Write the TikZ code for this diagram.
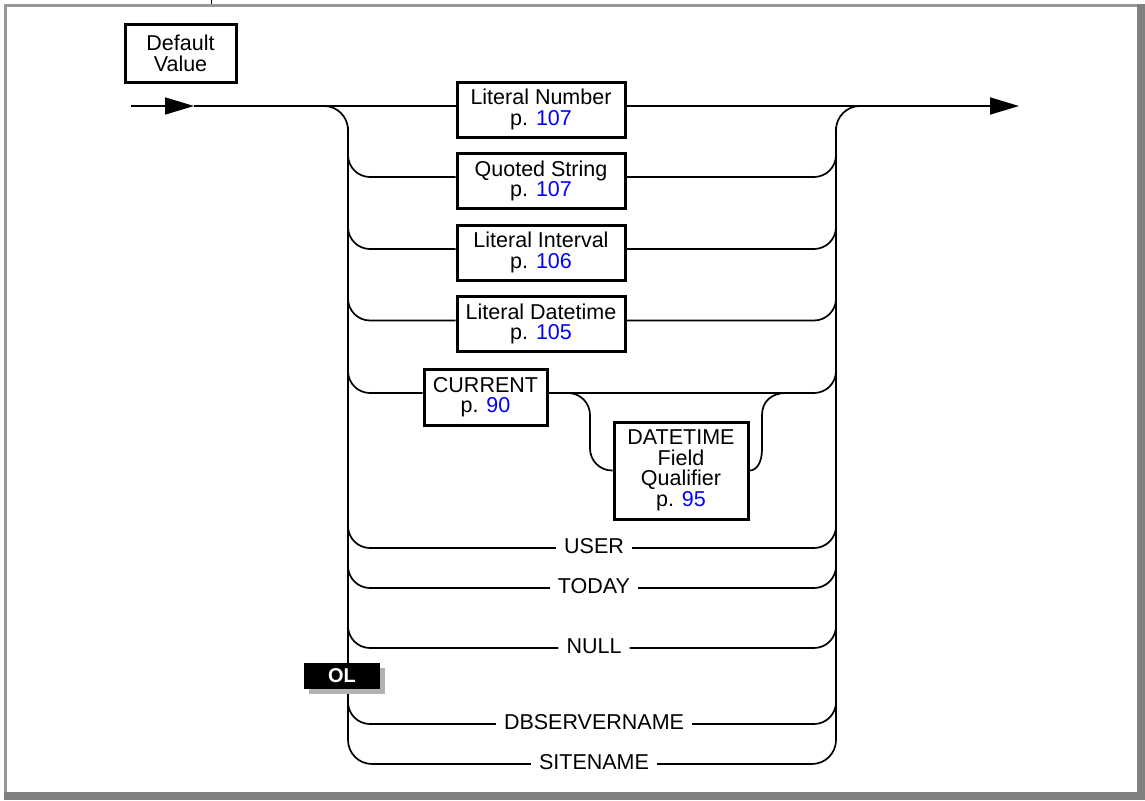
\documentclass[tikz,border=0pt]{standalone}
\usepackage{fontspec}
\setmainfont{Liberation Sans}
\usetikzlibrary{arrows.meta,calc}
\begin{document}
\begin{tikzpicture}[x=1pt,y=-1pt,
  conn/.style={line width=1.7pt},
  refbox/.style={draw,line width=3pt,align=center,inner sep=0pt,
    font=\fontsize{21.5pt}{20.5pt}\selectfont},
  kw/.style={fill=white,inner xsep=8pt,inner ysep=0pt,text height=15pt,text depth=5pt,
    font=\fontsize{21.5pt}{20.5pt}\selectfont},
  tip/.style={-{Triangle[length=29pt,width=17pt]}}]
\useasboundingbox (0,0) rectangle (1145,800);
% frame
\fill[black!40] (4,4) rectangle (1137,7);
\fill[black!40] (4,4) rectangle (7,792);
\fill[black!50] (1137,4) rectangle (1145,800);
\fill[black!50] (4,792) rectangle (1145,800);
\draw[line width=1pt] (211.5,0) -- (211.5,4);

% nodes
\node[refbox,minimum width=111pt,minimum height=57pt] (dv) at (180.5,53.5) {Default\\Value};
\node[refbox,minimum width=168pt,minimum height=55pt] (ln) at (541,109.5) {Literal Number\\p. \textcolor{blue}{107}};
\node[refbox,minimum width=168pt,minimum height=55pt] (qs) at (541,181) {Quoted String\\p. \textcolor{blue}{107}};
\node[refbox,minimum width=168pt,minimum height=55pt] (li) at (541,252.5) {Literal Interval\\p. \textcolor{blue}{106}};
\node[refbox,minimum width=168pt,minimum height=55pt] (ld) at (541,324) {Literal Datetime\\p. \textcolor{blue}{105}};
\node[refbox,minimum width=123pt,minimum height=56pt] (cur) at (485.5,397) {CURRENT\\p. \textcolor{blue}{90}};
\node[refbox,minimum width=134pt,minimum height=97pt] (dt) at (681,470.5) {DATETIME\\Field\\Qualifier\\p. \textcolor{blue}{95}};
\node[kw] (user) at (594,548) {USER};
\node[kw] (today) at (594,588) {TODAY};
\node[kw] (null) at (594,648) {NULL};
\node[kw] (dbs) at (594,724) {DBSERVERNAME};
\node[kw] (site) at (594,764) {SITENAME};

% coordinates
\coordinate (start) at (131,106);
\coordinate (in) at (194,106);
\coordinate (out) at (1019,106);
\coordinate (lt) at (300,106);
\coordinate (rt) at (880,106);

% main line
\draw[conn,tip] (start) -- (in);
\draw[conn] (in) -- (ln.west |- in);
\draw[conn,tip] (ln.east |- out) -- (out);

% trunks
\draw[conn,rounded corners=24pt] (lt) -| (348,764) -- (site.west);
\draw[conn,rounded corners=24pt] (site.east) -| (836,106) -- (rt);

% branches
\foreach \n/\y in {qs/177,li/249,ld/320.5,cur/393}{
  \draw[conn,rounded corners=22pt] (348,\y-50) |- (\n.west |- 0,\y);
  \draw[conn,rounded corners=22pt] (\n.east |- 0,\y) -| (836,\y-50);
}
\foreach \n/\y in {user/548,today/588,null/648,dbs/724}{
  \draw[conn,rounded corners=22pt] (348,\y-50) |- (\n.west);
  \draw[conn,rounded corners=22pt] (\n.east) -| (836,\y-50);
}

% optional qualifier bypass
\draw[conn,rounded corners=22pt] (550,393) -| (590,470.5) -- (dt.west);
\draw[conn] (dt.east) .. controls (757,470.5) and (762,462) .. (762,449) -- (762,415)
  .. controls (762,402) and (771,393) .. (786,393);

% OL marker
\fill[black!30] (309,668) rectangle (385,694);
\node[fill=black,text=white,inner sep=0pt,minimum width=76pt,minimum height=26pt,
  font=\fontsize{20pt}{20pt}\selectfont\bfseries] (ol) at (342,676) {OL};
\end{tikzpicture}
\end{document}
